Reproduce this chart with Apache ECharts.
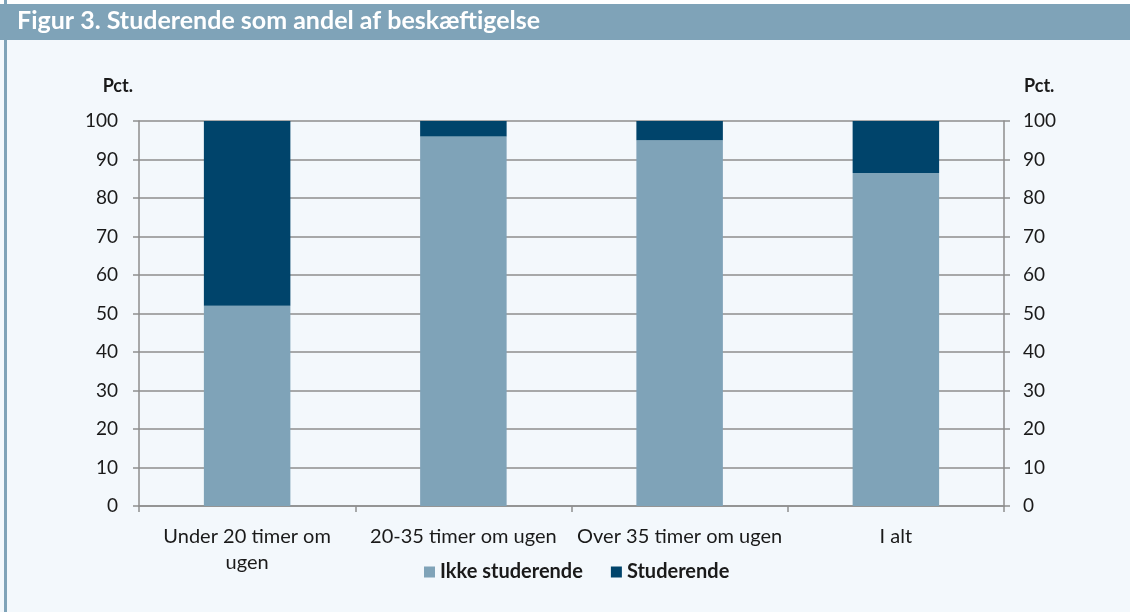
<!DOCTYPE html>
<html>
<head>
<meta charset="utf-8">
<script src="https://cdn.jsdelivr.net/npm/echarts@6/dist/echarts.min.js"></script>
<style>
  html, body { margin: 0; padding: 0; background: #fff; }
  #main { width: 1130px; height: 612px; }
</style>
</head>
<body>
<div id="main"></div>
<script>
var categories = ['Under 20 timer om\nugen', '20-35 timer om ugen', 'Over 35 timer om ugen', 'I alt'];
var ikkeStuderende = [52, 96, 95, 86.5];
var studerende = [48, 4, 5, 13.5];
var seriesNames = ['Ikke studerende', 'Studerende'];
var titleText = 'Figur 3. Studerende som andel af beskæftigelse';

var chart = echarts.init(document.getElementById('main'));

var axisGray = '#8e8e8e';
var font = 'Lato, "Noto Sans", sans-serif';

var option = {
  backgroundColor: '#f3f8fc',
  animation: false,
  textStyle: { fontFamily: font },
  graphic: [
    { type: 'rect', shape: { x: 0, y: 0, width: 1130, height: 4 }, style: { fill: '#ffffff' } },
    { type: 'rect', shape: { x: 0, y: 4, width: 1130, height: 36 }, style: { fill: '#7fa3b8' } },
    { type: 'rect', shape: { x: 4, y: 0, width: 3, height: 612 }, style: { fill: '#7fa3b8' } },
    {
      type: 'text', left: 17, top: 8,
      style: { text: titleText, fill: '#ffffff', font: 'bold 25px ' + font }
    }
  ],
  grid: { left: 139, right: 126, top: 121, bottom: 106 },
  legend: {
    data: seriesNames,
    left: 419, top: 557,
    itemWidth: 11, itemHeight: 11, itemGap: 28,
    icon: 'rect',
    textStyle: { fontSize: 20, fontWeight: 'bold', color: '#1a1a1a', fontFamily: font }
  },
  xAxis: {
    type: 'category',
    data: categories,
    axisLine: { lineStyle: { color: axisGray, width: 1.5 } },
    axisTick: { show: true, length: 6, lineStyle: { color: axisGray, width: 1.5 } },
    axisLabel: { color: '#1a1a1a', fontSize: 20, margin: 18, lineHeight: 26, interval: 0 }
  },
  yAxis: [
    {
      type: 'value', min: 0, max: 100, interval: 10,
      name: 'Pct.', nameLocation: 'end', nameGap: 26,
      nameTextStyle: { fontSize: 18, fontWeight: 'bold', color: '#1a1a1a', align: 'right', padding: [0, 6, 0, 0] },
      axisLine: { show: true, lineStyle: { color: axisGray, width: 1.5 } },
      axisTick: { show: true, length: 6, lineStyle: { color: axisGray, width: 1.5 } },
      splitLine: { show: true, lineStyle: { color: axisGray, width: 1.5 } },
      axisLabel: { color: '#1a1a1a', fontSize: 19, margin: 21 }
    },
    {
      type: 'value', min: 0, max: 100, interval: 10, position: 'right',
      name: 'Pct.', nameLocation: 'end', nameGap: 26,
      nameTextStyle: { fontSize: 18, fontWeight: 'bold', color: '#1a1a1a', align: 'left', padding: [0, 0, 0, 20] },
      axisLine: { show: true, lineStyle: { color: axisGray, width: 1.5 } },
      axisTick: { show: true, length: 6, lineStyle: { color: axisGray, width: 1.5 } },
      splitLine: { show: false },
      axisLabel: { color: '#1a1a1a', fontSize: 19, margin: 19 }
    }
  ],
  series: [
    {
      name: seriesNames[0], type: 'bar', stack: 'total', barWidth: '40%',
      itemStyle: { color: '#7fa3b8' },
      data: ikkeStuderende
    },
    {
      name: seriesNames[1], type: 'bar', stack: 'total', barWidth: '40%',
      itemStyle: { color: '#00446b' },
      data: studerende
    }
  ]
};

chart.setOption(option);
</script>
</body>
</html>
